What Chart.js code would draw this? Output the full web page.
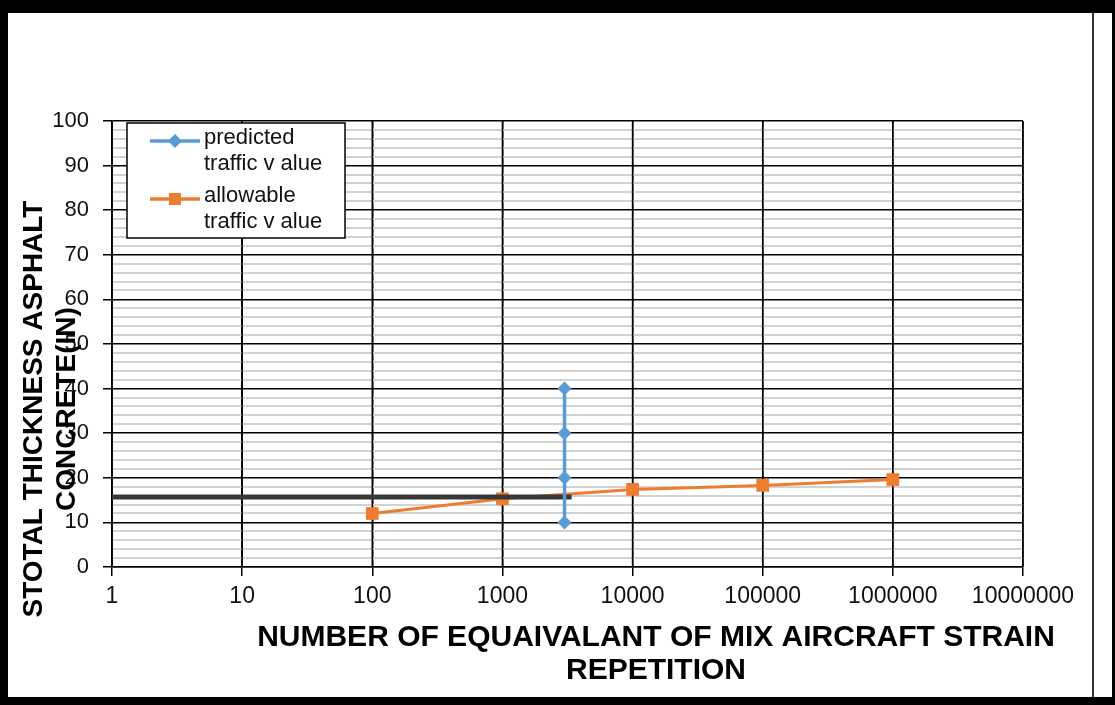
<!DOCTYPE html>
<html>
<head>
<meta charset="utf-8">
<script src="https://cdn.jsdelivr.net/npm/chart.js@4.4.1/dist/chart.umd.min.js"></script>
<style>
  html, body { margin: 0; padding: 0; background: #fff; }
  #chart { display: block; }
</style>
</head>
<body>
<canvas id="chart" width="1115" height="705"></canvas>
<script>
// ======================= DADOS =======================
const xTickValues = [1, 10, 100, 1000, 10000, 100000, 1000000, 10000000];
const yMin = 0, yMax = 100, yMajorStep = 10, yMinorStep = 2;

const predictedX = [3000, 3000, 3000, 3000];
const predictedY = [10, 20, 30, 40];

const allowableX = [100, 1000, 10000, 100000, 1000000];
const allowableY = [12, 15.3, 17.4, 18.3, 19.6];

const limitX = [1, 3400];
const limitY = [15.7, 15.7];

const legendLabels = [['predicted', 'traffic v alue'], ['allowable', 'traffic v alue']];
const yTitle = ['STOTAL THICKNESS ASPHALT', 'CONCRETE(IN)'];
const xTitle = ['NUMBER OF EQUAIVALANT OF MIX AIRCRAFT STRAIN', 'REPETITION'];

const toPoints = (xs, ys) => xs.map((x, i) => ({ x: x, y: ys[i] }));

// ======================= CORES =======================
const BLUE = '#5B9BD5';
const ORANGE = '#ED7D31';
const FONT = '"Liberation Sans", Arial, sans-serif';

// ======================= PLUGINS =======================
const framePlugin = {
  id: 'frame',
  beforeDraw(chart) {
    const ctx = chart.ctx;
    ctx.save();
    ctx.fillStyle = '#fff';
    ctx.fillRect(0, 0, chart.width, chart.height);
    ctx.restore();
  },
  afterDraw(chart) {
    const ctx = chart.ctx;
    const w = chart.width, h = chart.height;
    ctx.save();
    ctx.fillStyle = '#000';
    ctx.fillRect(0, 0, w, 13);
    ctx.fillRect(0, 0, 8, h);
    ctx.fillRect(0, h - 8, w, 8);
    ctx.fillRect(w - 3, 0, 3, h);
    ctx.fillStyle = '#333';
    ctx.fillRect(1092, 13, 2, h - 21);
    ctx.restore();
  }
};

// linhas verticais por cima das linhas menores cinzas
const vGridPlugin = {
  id: 'vGrid',
  beforeDatasetsDraw(chart) {
    const ctx = chart.ctx;
    const xs = chart.scales.x;
    const a = chart.chartArea;
    ctx.save();
    ctx.strokeStyle = '#000';
    ctx.lineWidth = 1.5;
    xTickValues.forEach(v => {
      const px = xs.getPixelForValue(v);
      ctx.beginPath();
      ctx.moveTo(px, a.top);
      ctx.lineTo(px, a.bottom);
      ctx.stroke();
    });
    ctx.restore();
  }
};

const titlesPlugin = {
  id: 'titles',
  afterDraw(chart) {
    const ctx = chart.ctx;
    ctx.save();
    ctx.fillStyle = '#000';
    ctx.textAlign = 'center';
    ctx.textBaseline = 'middle';
    // eixo Y (rotacionado)
    ctx.font = 'bold 28px ' + FONT;
    ctx.save();
    ctx.translate(34, 409);
    ctx.rotate(-Math.PI / 2);
    ctx.fillText(yTitle[0], 0, 0);
    ctx.restore();
    ctx.save();
    ctx.translate(67, 409);
    ctx.rotate(-Math.PI / 2);
    ctx.fillText(yTitle[1], 0, 0);
    ctx.restore();
    // eixo X
    ctx.font = 'bold 30px ' + FONT;
    ctx.fillText(xTitle[0], 656, 638);
    ctx.fillText(xTitle[1], 656, 671);
    ctx.restore();
  }
};

const legendBoxPlugin = {
  id: 'legendBox',
  afterDatasetsDraw(chart) {
    const ctx = chart.ctx;
    const box = { x: 127, y: 123, w: 218, h: 115 };
    ctx.save();
    ctx.fillStyle = '#fff';
    ctx.fillRect(box.x, box.y, box.w, box.h);
    ctx.strokeStyle = '#000';
    ctx.lineWidth = 1.5;
    ctx.strokeRect(box.x, box.y, box.w, box.h);

    const entries = [
      { color: BLUE, style: 'rectRot', r: 7, y: 141, labels: legendLabels[0] },
      { color: ORANGE, style: 'rect', r: 8.5, y: 199, labels: legendLabels[1] }
    ];
    entries.forEach(e => {
      ctx.strokeStyle = e.color;
      ctx.lineWidth = 3.5;
      ctx.beginPath();
      ctx.moveTo(150, e.y);
      ctx.lineTo(200, e.y);
      ctx.stroke();
      ctx.fillStyle = e.color;
      Chart.helpers.drawPoint(ctx, { pointStyle: e.style, radius: e.r, borderWidth: 0 }, 175, e.y);
      ctx.fillStyle = '#111';
      ctx.font = '22px ' + FONT;
      ctx.textAlign = 'left';
      ctx.textBaseline = 'middle';
      ctx.fillText(e.labels[0], 204, e.y - 3);
      ctx.fillText(e.labels[1], 204, e.y + 23);
    });
    ctx.restore();
  }
};

// ======================= GRÁFICO =======================
const ctx = document.getElementById('chart').getContext('2d');
new Chart(ctx, {
  type: 'line',
  data: {
    datasets: [
      {
        label: 'predicted traffic value',
        data: toPoints(predictedX, predictedY),
        borderColor: BLUE, backgroundColor: BLUE,
        borderWidth: 3.5, pointStyle: 'rectRot', pointRadius: 7, pointBorderWidth: 0,
        order: 0
      },
      {
        label: 'limit',
        data: toPoints(limitX, limitY),
        borderColor: '#383838', borderWidth: 5, pointRadius: 0,
        order: 1
      },
      {
        label: 'allowable traffic value',
        data: toPoints(allowableX, allowableY),
        borderColor: ORANGE, backgroundColor: ORANGE,
        borderWidth: 3, pointStyle: 'rect', pointRadius: 9, pointBorderWidth: 0,
        order: 2
      }
    ]
  },
  options: {
    responsive: false,
    animation: false,
    devicePixelRatio: 1,
    layout: { padding: { left: 0, top: 121, right: 92, bottom: 0 } },
    plugins: { legend: { display: false }, tooltip: { enabled: false } },
    scales: {
      x: {
        type: 'logarithmic',
        min: xTickValues[0],
        max: xTickValues[xTickValues.length - 1],
        afterBuildTicks: s => { s.ticks = xTickValues.map(v => ({ value: v })); },
        afterFit: s => { s.height = 138; },
        ticks: {
          callback: v => String(v),
          color: '#111',
          font: { family: FONT, size: 23 },
          padding: 7,
          maxRotation: 0,
          autoSkip: false
        },
        grid: { color: '#000', lineWidth: 1.5, tickLength: 9, tickColor: '#000' },
        border: { color: '#000', width: 1.5 }
      },
      y: {
        min: yMin, max: yMax,
        afterFit: s => { s.width = 112; },
        ticks: {
          stepSize: yMinorStep,
          callback: v => (v % yMajorStep === 0 ? String(v) : ''),
          color: '#111',
          font: { family: FONT, size: 22 },
          padding: 14,
          autoSkip: false
        },
        grid: {
          color: c => (c.tick && c.tick.value % yMajorStep === 0 ? '#000' : '#d2d2d2'),
          lineWidth: c => (c.tick && c.tick.value % yMajorStep === 0 ? 1.5 : 2),
          tickLength: 9,
          tickColor: c => (c.tick && c.tick.value % yMajorStep === 0 ? '#000' : 'rgba(0,0,0,0)')
        },
        border: { color: '#000', width: 1.5 }
      }
    }
  },
  plugins: [framePlugin, vGridPlugin, legendBoxPlugin, titlesPlugin]
});
</script>
</body>
</html>
